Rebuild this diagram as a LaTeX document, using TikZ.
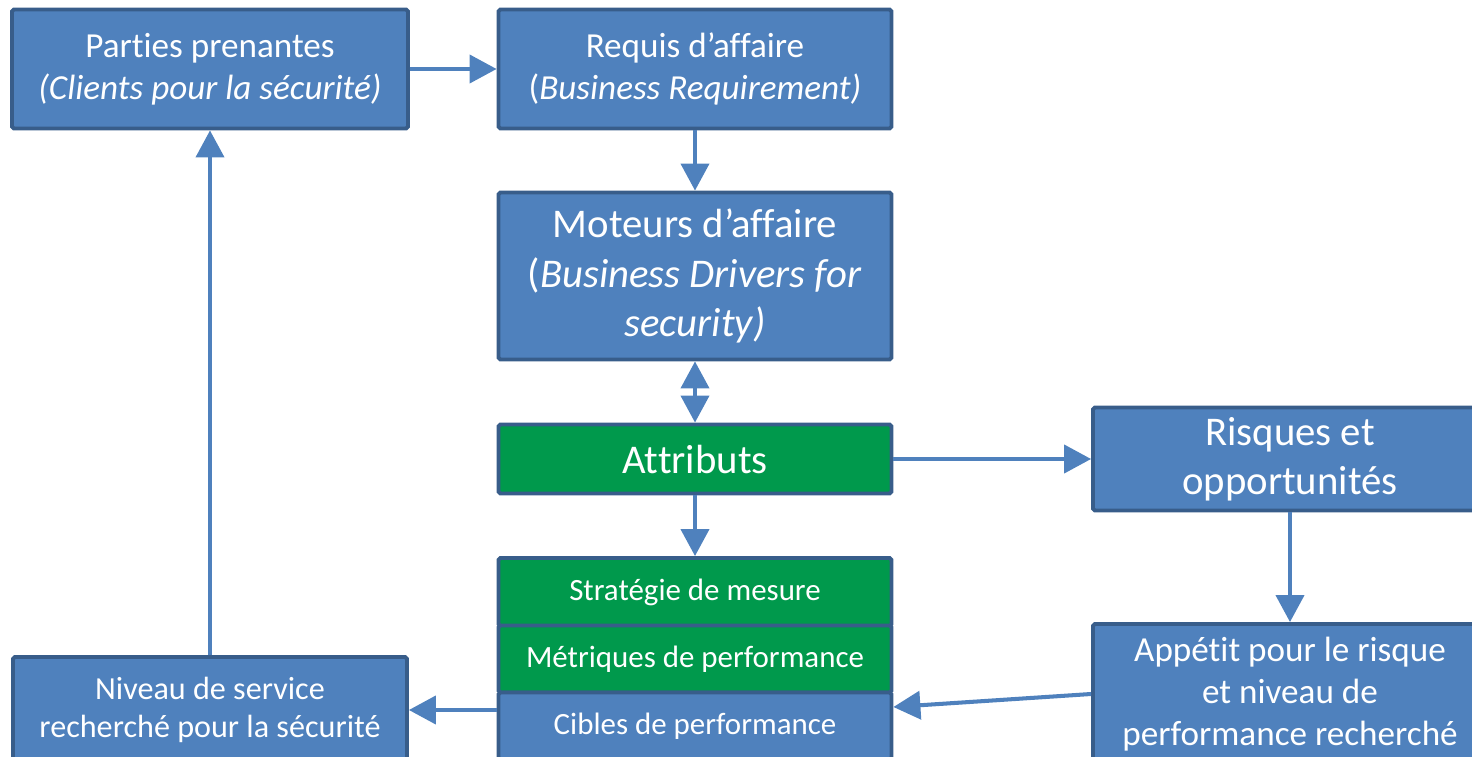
\documentclass[tikz,border=0pt]{standalone}
\usepackage{fontspec}
\setmainfont{Carlito}[Ligatures={NoCommon}]
\usetikzlibrary{arrows.meta}

\definecolor{boxblue}{HTML}{4F81BD}
\definecolor{boxedge}{HTML}{385D8A}
\definecolor{boxgreen}{HTML}{00994C}

\tikzset{
	box/.style={rectangle, draw=boxedge, fill=boxblue, line width=2.2pt, rounded corners=1pt,
		text=white, align=center, inner sep=0pt, minimum width=7.86cm},
	greenbox/.style={box, fill=boxgreen},
	link/.style={draw=boxblue, line width=2.3pt, >={Triangle[length=0.54cm, width=0.56cm]}},
}
\newcommand{\bigtext}{\fontsize{23.2}{28}\selectfont}
\newcommand{\midtext}{\fontsize{20}{24}\selectfont}
\newcommand{\smalltext}{\fontsize{17.6}{21}\selectfont}

\begin{document}
\begin{tikzpicture}[x=0.02cm, y=-0.02cm]
		\useasboundingbox (0, 0) rectangle (1472, 757);
		\clip (0, 0) rectangle (1472, 757);

		\node[box, minimum width=7.92cm, minimum height=2.38cm, font=\midtext] (parties) at (210, 69) {Parties prenantes\\\textit{(Clients pour la sécurité)}};
		\node[box, minimum height=2.38cm, font=\midtext] (requis) at (695, 69) {Requis d’affaire\\(\textit{Business Requirement)}};
		\node[box, minimum height=3.34cm, font=\bigtext] (moteurs) at (695, 276) {Moteurs d’affaire\\(\textit{Business Drivers for}\\\textit{security)}};
		\node[greenbox, minimum height=1.38cm, font=\bigtext] (attributs) at (695, 459) {Attributs};
		\node[greenbox, minimum height=1.36cm, font=\smalltext] (strategie) at (695, 592) {Stratégie de mesure};
		\node[greenbox, minimum height=1.34cm, font=\smalltext] (metriques) at (695, 659) {Métriques de performance};
		\node[box, minimum height=1.34cm, font=\smalltext] (cibles) at (695, 726) {Cibles de performance};
		\node[box, minimum width=7.88cm, minimum height=2.06cm, font=\bigtext] (risques) at (1290, 459) {Risques et\\opportunités};
		\node[box, minimum width=7.88cm, minimum height=2.8cm, font=\midtext] (appetit) at (1290, 694) {Appétit pour le risque\\et niveau de\\performance recherché};
		\node[box, minimum width=7.88cm, minimum height=2.12cm, font=\fontsize{18.3}{21.5}\selectfont] (niveau) at (210, 710) {Niveau de service\\recherché pour la sécurité};

		\draw[link, ->] (parties) -- (requis);
		\draw[link, ->] (requis) -- (moteurs);
		\draw[link, <->] (moteurs) -- (attributs);
		\draw[link, ->] (attributs) -- (strategie);
		\draw[link, ->] (attributs) -- (risques);
		\draw[link, ->] (risques) -- (appetit);
		\draw[link, ->] (appetit.west) -- ([yshift=0.38cm]cibles.east);
		\draw[link, ->] (cibles.west |- niveau.east) -- (niveau.east);
		\draw[link, ->] (niveau) -- (parties);
	\end{tikzpicture}
\end{document}
